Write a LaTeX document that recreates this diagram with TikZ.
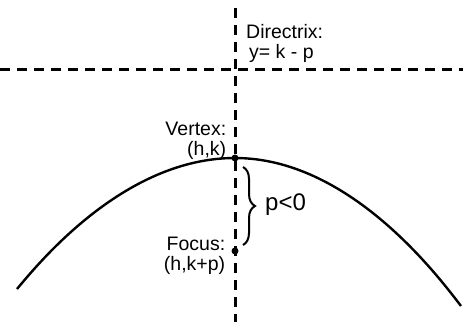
\documentclass[tikz,border=0pt]{standalone}
\usepackage{fontspec}
\setmainfont{Liberation Sans}
\usetikzlibrary{positioning, calc, decorations.pathreplacing}

\begin{document}
\begin{tikzpicture}[
    x=1pt, y=-1pt,
    guide/.style={line width=3pt, dash pattern=on 10pt off 7pt},
    curve/.style={line width=2.4pt},
    dot/.style={circle, fill=black, inner sep=0pt, minimum size=7pt},
    txt/.style={font=\fontsize{19.5}{20}\selectfont, inner sep=0pt, align=left},
    gap/.style={decorate, decoration={brace, amplitude=12pt}, line width=2pt},
]
    \useasboundingbox (0,0) rectangle (463,322);

    % Key points
    \node (vertex) [dot] at (235,158) {};
    \node (focus) [dot] at (235,251) {};
    \coordinate (axtop) at (235,8);
    \coordinate (axbot) at (235,322);
    \coordinate (dleft) at (0,69);
    \coordinate (dright) at (463,69);
    \coordinate (pleft) at (17,289);
    \coordinate (pright) at (461,306);
    \coordinate (bracemid) at ($(vertex)!0.5!(focus)$);

    % Axis and directrix
    \draw [guide] (axtop) -- (axbot);
    \draw [guide] (dleft) -- (dright);

    % Parabola
    \draw [curve] (pleft) parabola bend (vertex.center) (pright);

    % Labels
    \node (dirtext) [txt, below right=16pt and 11pt of axtop] {Directrix:\\\hspace{3pt}y= k - p};
    \node (vtext) [txt, align=right, above left=-4pt and 6pt of vertex] {Vertex:\\(h,k)};
    \node (ftext) [txt, align=right, below left=-17pt and 7pt of focus] {Focus:\\(h,k+p)};
    \node (ptext) [txt, font=\fontsize{24}{25}\selectfont, right=30pt of bracemid] {p<0};

    \draw [gap] ($(vertex)+(8,9)$) -- ($(focus)+(8,-6)$);

\end{tikzpicture}
\end{document}
